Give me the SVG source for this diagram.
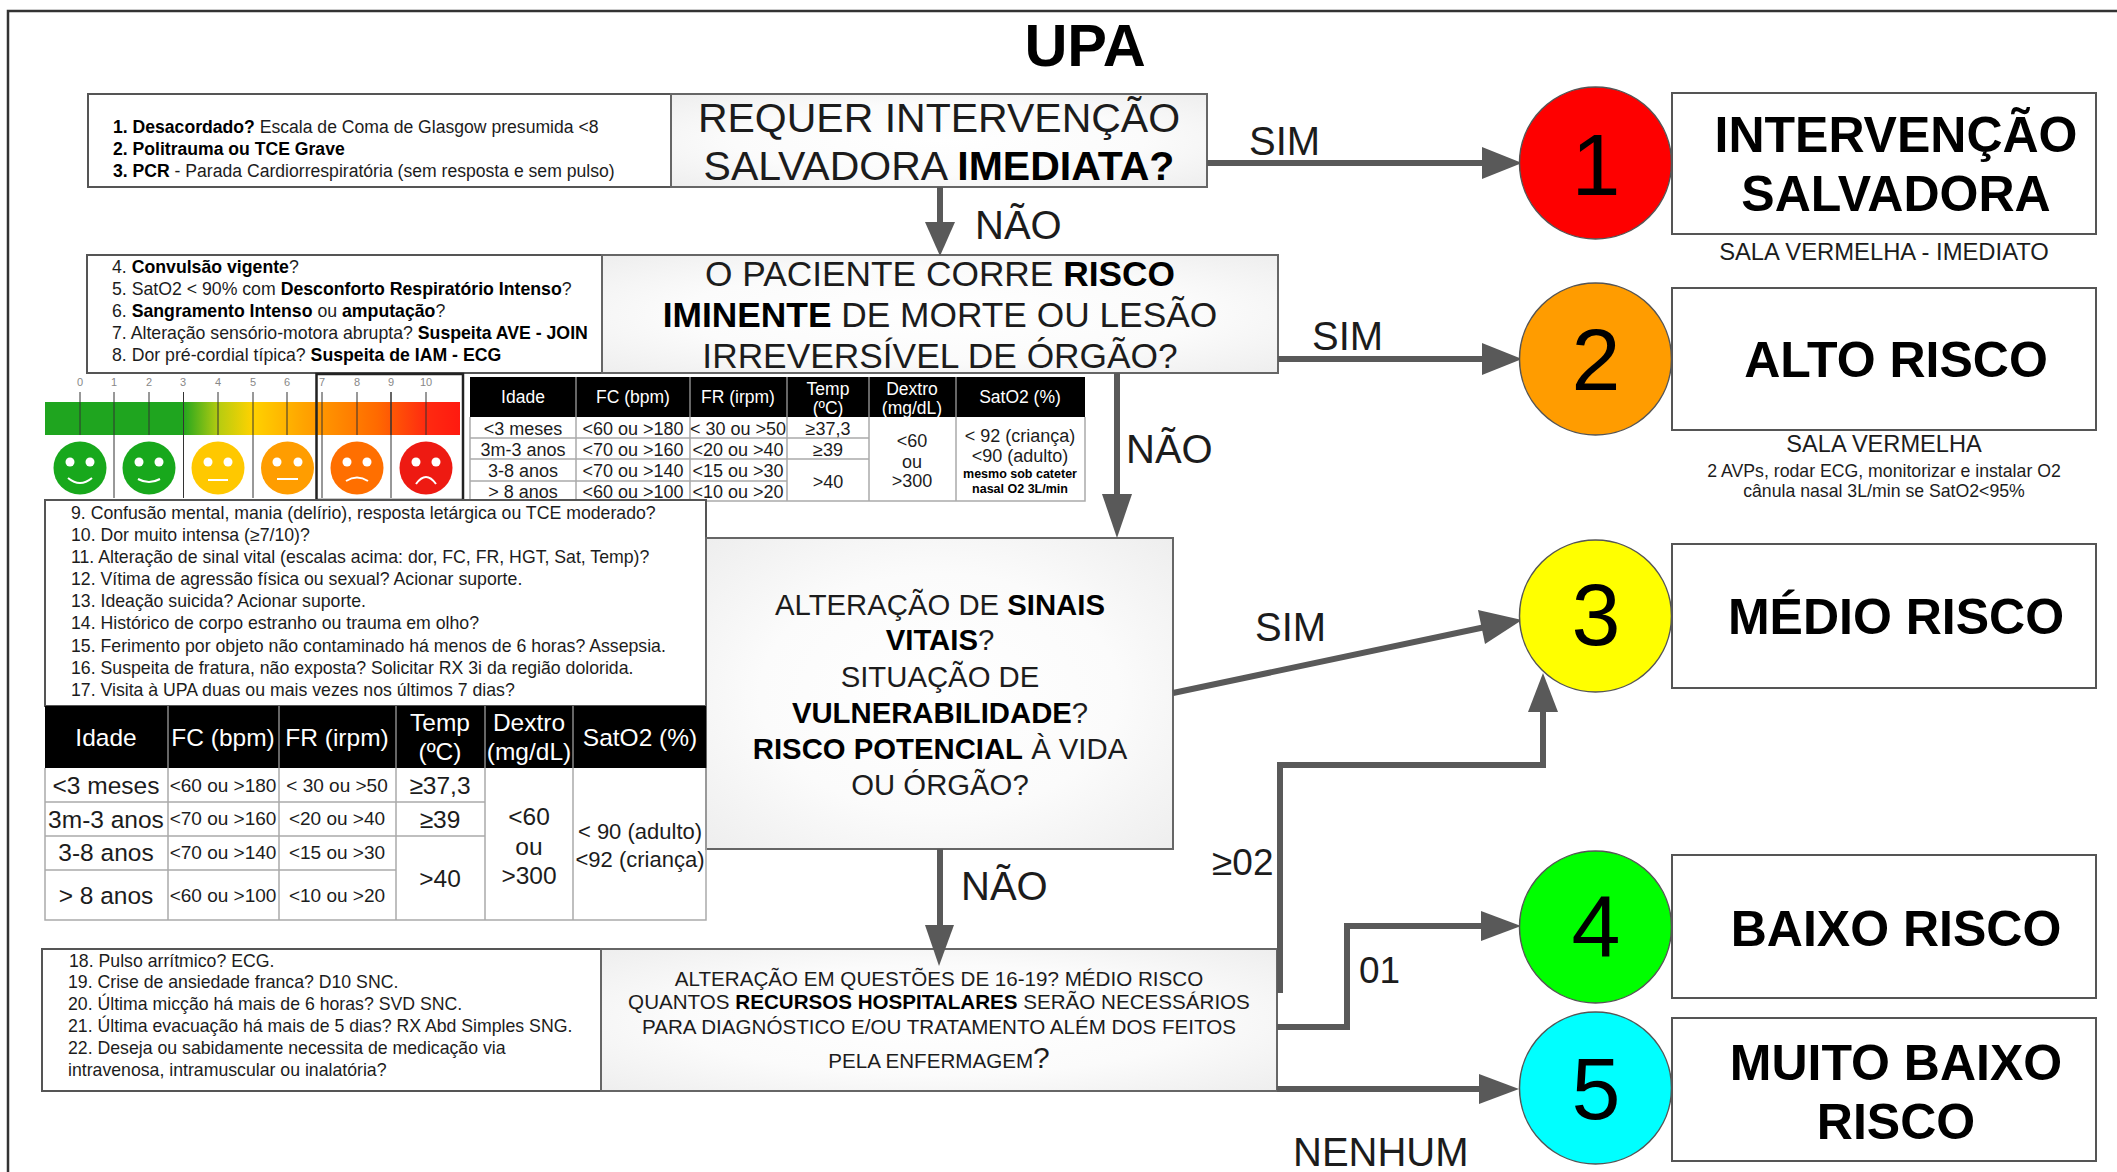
<svg xmlns="http://www.w3.org/2000/svg" width="2117" height="1172" viewBox="0 0 2117 1172">
<style>
text{font-family:"Liberation Sans",Arial,sans-serif;fill:#1c1c1c}
.b{font-weight:bold;fill:#000}
.box{fill:#fff;stroke:#555;stroke-width:2}
.q{fill:url(#qg);stroke:#666;stroke-width:2}
.m{text-anchor:middle}
.l18{font-size:17.7px}
.q1{font-size:41px;text-anchor:middle}
.q2{font-size:35.3px;text-anchor:middle}
.q3{font-size:29.3px;text-anchor:middle}
.q4{font-size:20.6px;text-anchor:middle}
.lab{font-size:40px}
.h{font-size:50px;font-weight:bold;text-anchor:middle;fill:#000}
.n{font-size:88px;text-anchor:middle;fill:#000}
.circ{stroke:#555;stroke-width:1.5}
.conn{fill:none;stroke:#595959;stroke-width:6}
.hd{fill:#595959}
.tk{stroke:#333;stroke-width:1}
.tn{font-size:11px;text-anchor:middle;fill:#888}
.eye{fill:#fff}
.sm{fill:none;stroke:#fff;stroke-width:2}
.th{fill:#000}
.tw{fill:#fff;text-anchor:middle}
.grid{stroke:#aaa;stroke-width:1.5;fill:none}
.t1{font-size:18px;text-anchor:middle}
.t2{font-size:24.5px;text-anchor:middle}
.t2s{font-size:19px;text-anchor:middle}
</style>
<defs>
<radialGradient id="qg" cx="50%" cy="50%" r="70%"><stop offset="0" stop-color="#fff"/><stop offset="0.55" stop-color="#fbfbfb"/><stop offset="1" stop-color="#eeeeee"/></radialGradient>
<linearGradient id="pain" gradientUnits="userSpaceOnUse" x1="45" y1="0" x2="460" y2="0">
<stop offset="0" stop-color="#1fa51f"/><stop offset="0.33" stop-color="#1fa51f"/><stop offset="0.42" stop-color="#b8cc10"/><stop offset="0.5" stop-color="#ffd200"/><stop offset="0.62" stop-color="#ffa500"/><stop offset="0.8" stop-color="#ff6a00"/><stop offset="0.92" stop-color="#ff2a10"/><stop offset="1" stop-color="#ff1a10"/></linearGradient>
</defs>
<rect width="2117" height="1172" fill="#fff"/>
<path d="M8 1172V11H2117" fill="none" stroke="#333" stroke-width="2.5"/>
<text class="b m" x="1085" y="66" font-size="59.500">UPA</text>

<g id="q1">
<rect class="box" x="88" y="94" width="583" height="93"/>
<rect class="q" x="671" y="94" width="536" height="93"/>
<text x="113" y="133" font-size="17.600"><tspan class="b">1. Desacordado?</tspan> Escala de Coma de Glasgow presumida &lt;8</text>
<text x="113" y="155" font-size="17.600" class="b">2. Politrauma ou TCE Grave</text>
<text x="113" y="177" font-size="17.600"><tspan class="b">3. PCR</tspan> - Parada Cardiorrespiratória (sem resposta e sem pulso)</text>
<text class="q1" x="939" y="132">REQUER INTERVENÇÃO</text>
<text class="q1" x="939" y="180">SALVADORA <tspan class="b">IMEDIATA?</tspan></text>
</g>

<g id="q2">
<rect class="box" x="87" y="255" width="515" height="118"/>
<rect class="q" x="602" y="255" width="676" height="118"/>
<g class="l18">
<text x="112" y="273">4. <tspan class="b">Convulsão vigente</tspan>?</text>
<text x="112" y="295">5. SatO2 &lt; 90% com <tspan class="b">Desconforto Respiratório Intenso</tspan>?</text>
<text x="112" y="317">6. <tspan class="b">Sangramento Intenso</tspan> ou <tspan class="b">amputação</tspan>?</text>
<text x="112" y="339">7. Alteração sensório-motora abrupta? <tspan class="b">Suspeita AVE - JOIN</tspan></text>
<text x="112" y="361">8. Dor pré-cordial típica? <tspan class="b">Suspeita de IAM - ECG</tspan></text>
</g>
<text class="q2" x="940" y="286">O PACIENTE CORRE <tspan class="b">RISCO</tspan></text>
<text class="q2" x="940" y="327"><tspan class="b">IMINENTE</tspan> DE MORTE OU LESÃO</text>
<text class="q2" x="940" y="368">IRREVERSÍVEL DE ÓRGÃO?</text>
</g>

<g id="pain-scale">
<rect x="45" y="402" width="415" height="33" fill="url(#pain)"/>
<g class="tk">
<path d="M80 392V435M149 392V435M218 392V435M287 392V435M357 392V435M391 392V435M426 392V435"/>
<path d="M114 392V498M183.500 392V498M253 392V498M322 392V498M391 392V498"/>
</g>
<g>
<text class="tn" x="80" y="386">0</text><text class="tn" x="114" y="386">1</text><text class="tn" x="149" y="386">2</text><text class="tn" x="183" y="386">3</text><text class="tn" x="218" y="386">4</text><text class="tn" x="253" y="386">5</text><text class="tn" x="287" y="386">6</text><text class="tn" x="322" y="386">7</text><text class="tn" x="357" y="386">8</text><text class="tn" x="391" y="386">9</text><text class="tn" x="426" y="386">10</text>
</g>
<g id="face-0"><circle cx="80" cy="468" r="26.500" fill="#18a81c"/><circle class="eye" cx="70" cy="462" r="4.500"/><circle class="eye" cx="90" cy="462" r="4.500"/><path class="sm" d="M68 478Q80 488 92 478"/></g>
<g id="face-1"><circle cx="149" cy="468" r="26.500" fill="#18a81c"/><circle class="eye" cx="139" cy="462" r="4.500"/><circle class="eye" cx="159" cy="462" r="4.500"/><path class="sm" d="M138 479Q149 485 160 479"/></g>
<g id="face-2"><circle cx="218" cy="468" r="26.500" fill="#ffc800"/><circle class="eye" cx="208" cy="462" r="4.500"/><circle class="eye" cx="228" cy="462" r="4.500"/><path class="sm" d="M208 480H228"/></g>
<g id="face-3"><circle cx="287.500" cy="468" r="26.500" fill="#ff9d00"/><circle class="eye" cx="277" cy="462" r="4.500"/><circle class="eye" cx="298" cy="462" r="4.500"/><path class="sm" d="M277 479H298"/></g>
<g id="face-4"><circle cx="357" cy="468" r="26.500" fill="#ff6f00"/><circle class="eye" cx="347" cy="462" r="4.500"/><circle class="eye" cx="367" cy="462" r="4.500"/><path class="sm" d="M346 481Q357 474 368 481"/></g>
<g id="face-5"><circle cx="426" cy="468" r="26.500" fill="#ee1a12"/><circle class="eye" cx="416" cy="462" r="4.500"/><circle class="eye" cx="436" cy="462" r="4.500"/><path class="sm" d="M416 484Q426 470 436 484"/></g>
<rect x="316.500" y="374" width="146.500" height="126" fill="none" stroke="#222" stroke-width="2.500"/>
</g>

<g id="table-top">
<rect class="th" x="470" y="377" width="615" height="40"/>
<g stroke="#888" stroke-width="1.500"><path d="M576 377V417M690 377V417M787 377V417M869 377V417M956 377V417"/></g>
<g style="font-size:17.500px">
<text class="tw" x="523" y="403">Idade</text><text class="tw" x="633" y="403">FC (bpm)</text><text class="tw" x="738" y="403">FR (irpm)</text>
<text class="tw" x="828" y="395">Temp</text><text class="tw" x="828" y="414">(ºC)</text>
<text class="tw" x="912" y="395">Dextro</text><text class="tw" x="912" y="414">(mg/dL)</text>
<text class="tw" x="1020" y="403">SatO2 (%)</text>
</g>
<path class="grid" d="M470 417V501H1085V417M576 417V501M690 417V501M787 417V501M869 417V501M956 417V501M470 438H869M470 459H869M470 481H787"/>
<g class="t1">
<text x="523" y="435">&lt;3 meses</text><text x="633" y="435">&lt;60 ou &gt;180</text><text x="738" y="435">&lt; 30 ou &gt;50</text><text x="828" y="435">≥37,3</text>
<text x="523" y="456">3m-3 anos</text><text x="633" y="456">&lt;70 ou &gt;160</text><text x="738" y="456">&lt;20 ou &gt;40</text><text x="828" y="456">≥39</text>
<text x="523" y="477">3-8 anos</text><text x="633" y="477">&lt;70 ou &gt;140</text><text x="738" y="477">&lt;15 ou &gt;30</text>
<text x="523" y="498">&gt; 8 anos</text><text x="633" y="498">&lt;60 ou &gt;100</text><text x="738" y="498">&lt;10 ou &gt;20</text><text x="828" y="488">&gt;40</text>
<text x="912" y="447">&lt;60</text><text x="912" y="468">ou</text><text x="912" y="487">&gt;300</text>
<text x="1020" y="442">&lt; 92 (criança)</text><text x="1020" y="462">&lt;90 (adulto)</text>
<text x="1020" y="478" class="b" style="font-size:12.500px">mesmo sob cateter</text><text x="1020" y="493" class="b" style="font-size:12.500px">nasal O2 3L/min</text>
</g>
</g>

<g id="q3">
<rect class="box" x="45" y="500" width="661" height="206"/>
<rect class="q" x="706" y="538" width="467" height="311"/>
<g class="l18">
<text x="71" y="519">9. Confusão mental, mania (delírio), resposta letárgica ou TCE moderado?</text>
<text x="71" y="541">10. Dor muito intensa (≥7/10)?</text>
<text x="71" y="563">11. Alteração de sinal vital (escalas acima: dor, FC, FR, HGT, Sat, Temp)?</text>
<text x="71" y="585">12. Vítima de agressão física ou sexual? Acionar suporte.</text>
<text x="71" y="607">13. Ideação suicida? Acionar suporte.</text>
<text x="71" y="629">14. Histórico de corpo estranho ou trauma em olho?</text>
<text x="71" y="652">15. Ferimento por objeto não contaminado há menos de 6 horas? Assepsia.</text>
<text x="71" y="674">16. Suspeita de fratura, não exposta? Solicitar RX 3i da região dolorida.</text>
<text x="71" y="696">17. Visita à UPA duas ou mais vezes nos últimos 7 dias?</text>
</g>
<text class="q3" x="940" y="615">ALTERAÇÃO DE <tspan class="b">SINAIS</tspan></text>
<text class="q3" x="940" y="650"><tspan class="b">VITAIS</tspan>?</text>
<text class="q3" x="940" y="687">SITUAÇÃO DE</text>
<text class="q3" x="940" y="723"><tspan class="b">VULNERABILIDADE</tspan>?</text>
<text class="q3" x="940" y="759"><tspan class="b">RISCO POTENCIAL</tspan> À VIDA</text>
<text class="q3" x="940" y="795">OU ÓRGÃO?</text>
</g>

<g id="table-bottom">
<rect class="th" x="45" y="706" width="661" height="62"/>
<g stroke="#888" stroke-width="1.500"><path d="M168 706V768M279 706V768M396 706V768M485 706V768M573 706V768"/></g>
<g style="font-size:24.500px">
<text class="tw" x="106" y="746">Idade</text><text class="tw" x="223" y="746">FC (bpm)</text><text class="tw" x="337" y="746">FR (irpm)</text>
<text class="tw" x="440" y="731">Temp</text><text class="tw" x="440" y="760">(ºC)</text>
<text class="tw" x="529" y="731">Dextro</text><text class="tw" x="529" y="760">(mg/dL)</text>
<text class="tw" x="640" y="746">SatO2 (%)</text>
</g>
<path class="grid" d="M45 768V920H706V768M168 768V920M279 768V920M396 768V920M485 768V920M573 768V920M45 802H485M45 836H485M45 870H396"/>
<g class="t2">
<text x="106" y="794">&lt;3 meses</text><text x="106" y="828">3m-3 anos</text><text x="106" y="861">3-8 anos</text><text x="106" y="904">&gt; 8 anos</text>
<text x="440" y="794">≥37,3</text><text x="440" y="828">≥39</text><text x="440" y="887">&gt;40</text>
<text x="529" y="825">&lt;60</text><text x="529" y="855">ou</text><text x="529" y="884">&gt;300</text>
<text x="640" y="839" style="font-size:22px">&lt; 90 (adulto)</text><text x="640" y="867" style="font-size:22px">&lt;92 (criança)</text>
</g>
<g class="t2s">
<text x="223" y="792">&lt;60 ou &gt;180</text><text x="337" y="792">&lt; 30 ou &gt;50</text>
<text x="223" y="825">&lt;70 ou &gt;160</text><text x="337" y="825">&lt;20 ou &gt;40</text>
<text x="223" y="859">&lt;70 ou &gt;140</text><text x="337" y="859">&lt;15 ou &gt;30</text>
<text x="223" y="902">&lt;60 ou &gt;100</text><text x="337" y="902">&lt;10 ou &gt;20</text>
</g>
</g>

<g id="q4">
<rect class="box" x="42" y="949" width="559" height="142"/>
<rect class="q" x="601" y="949" width="676" height="142"/>
<g class="l18">
<text x="69" y="967">18. Pulso arrítmico? ECG.</text>
<text x="68" y="988">19. Crise de ansiedade franca? D10 SNC.</text>
<text x="68" y="1010">20. Última micção há mais de 6 horas? SVD SNC.</text>
<text x="68" y="1032">21. Última evacuação há mais de 5 dias? RX Abd Simples SNG.</text>
<text x="68" y="1054">22. Deseja ou sabidamente necessita de medicação via</text>
<text x="68" y="1076">intravenosa, intramuscular ou inalatória?</text>
</g>
<text class="q4" x="939" y="986">ALTERAÇÃO EM QUESTÕES DE 16-19? MÉDIO RISCO</text>
<text class="q4" x="939" y="1009">QUANTOS <tspan class="b">RECURSOS HOSPITALARES</tspan> SERÃO NECESSÁRIOS</text>
<text class="q4" x="939" y="1034">PARA DIAGNÓSTICO E/OU TRATAMENTO ALÉM DOS FEITOS</text>
<text class="q4" x="939" y="1068">PELA ENFERMAGEM<tspan font-size="30">?</tspan></text>
</g>

<g id="connectors">
<path class="conn" d="M1207 163H1485"/><path class="hd" d="M1482 147L1522 163L1482 179Z"/>
<path class="conn" d="M940 187V225"/><path class="hd" d="M925 222L940 256L955 222Z"/>
<path class="conn" d="M1278 359H1485"/><path class="hd" d="M1482 343L1522 359L1482 375Z"/>
<path class="conn" d="M1117 373V500"/><path class="hd" d="M1102 494L1117 538L1132 494Z"/>
<path class="conn" d="M1173 693L1490 626"/><path class="hd" d="M1478 610L1522 620L1485 644Z"/>
<path class="conn" d="M940 849V930"/><path class="hd" d="M925 925L939 966L954 925Z"/>
<path class="conn" d="M1280 993V765H1543V705"/><path class="hd" d="M1528 712L1543 673L1558 712Z"/>
<path class="conn" d="M1277 1027H1347V926H1490"/><path class="hd" d="M1481 911L1521 926L1481 941Z"/>
<path class="conn" d="M1277 1089H1490"/><path class="hd" d="M1479 1074L1519 1089L1479 1104Z"/>
</g>
<g id="connector-labels" class="lab">
<text x="1249" y="155">SIM</text>
<text x="975" y="239">NÃO</text>
<text x="1312" y="350">SIM</text>
<text x="1126" y="463">NÃO</text>
<text x="1255" y="641">SIM</text>
<text x="961" y="900">NÃO</text>
<text x="1212" y="875" font-size="37">≥02</text>
<text x="1359" y="983" font-size="37">01</text>
<text x="1293" y="1166">NENHUM</text>
</g>

<g id="level-1">
<circle class="circ" cx="1595.500" cy="163" r="76" fill="#fe0000"/><text class="n" x="1596" y="195">1</text>
<rect class="box" x="1672" y="93" width="424" height="141"/>
<text class="h" x="1896" y="152">INTERVENÇÃO</text><text class="h" x="1896" y="211">SALVADORA</text>
<text class="m" x="1884" y="260" font-size="23.800">SALA VERMELHA - IMEDIATO</text>
</g>
<g id="level-2">
<circle class="circ" cx="1595.500" cy="359" r="76" fill="#ff9c00"/><text class="n" x="1596" y="390">2</text>
<rect class="box" x="1672" y="288" width="424" height="142"/>
<text class="h" x="1896" y="377">ALTO RISCO</text>
<text class="m" x="1884" y="452" font-size="23.600">SALA VERMELHA</text>
<text class="m" x="1884" y="477" font-size="17.700">2 AVPs, rodar ECG, monitorizar e instalar O2</text>
<text class="m" x="1884" y="497" font-size="17.700">cânula nasal 3L/min se SatO2&lt;95%</text>
</g>
<g id="level-3">
<circle class="circ" cx="1595.500" cy="616" r="76" fill="#ffff00"/><text class="n" x="1596" y="645">3</text>
<rect class="box" x="1672" y="544" width="424" height="144"/>
<text class="h" x="1896" y="634">MÉDIO RISCO</text>
</g>
<g id="level-4">
<circle class="circ" cx="1595.500" cy="927" r="76" fill="#00ff00"/><text class="n" x="1596" y="957">4</text>
<rect class="box" x="1672" y="855" width="424" height="143"/>
<text class="h" x="1896" y="946">BAIXO RISCO</text>
</g>
<g id="level-5">
<circle class="circ" cx="1595.500" cy="1088" r="76" fill="#00ffff"/><text class="n" x="1596" y="1119">5</text>
<rect class="box" x="1672" y="1018" width="424" height="143"/>
<text class="h" x="1896" y="1080">MUITO BAIXO</text><text class="h" x="1896" y="1139">RISCO</text>
</g>
</svg>
